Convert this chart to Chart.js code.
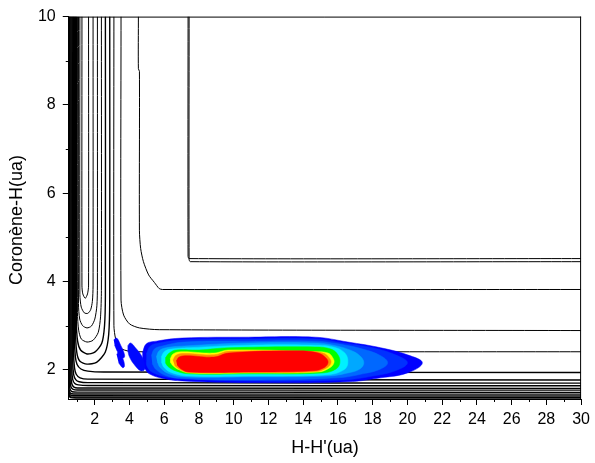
<!DOCTYPE html>
<html>
<head>
<meta charset="utf-8">
<script src="https://cdn.jsdelivr.net/npm/chart.js@4.4.1/dist/chart.umd.min.js"></script>
<style>
  html, body { margin: 0; padding: 0; background: #fff; }
  #wrap { width: 595px; height: 463px; }
</style>
</head>
<body>
<div id="wrap"><canvas id="pes" width="595" height="463"></canvas></div>
<script>
// Axis ticks
const xTicks = [2, 4, 6, 8, 10, 12, 14, 16, 18, 20, 22, 24, 26, 28, 30];
const xMinor = [1, 3, 5, 7, 9, 11, 13, 15, 17, 19, 21, 23, 25, 27, 29];
const yTicks = [2, 4, 6, 8, 10];
const yMinor = [3, 5, 7, 9];

// Contour lines [H-H', Coronene-H]
const upperL1a = [[7.37,10],[7.37,4.57],[7.43,4.52],[30,4.52]];
const upperL1b = [[7.43,10],[7.43,4.50],[7.5,4.45],[30,4.45]];
const upperL2 = [[4.51,10],[4.51,8.82],[4.57,8.76],[4.57,5.15],[4.64,4.75],[4.8,4.45],[5.1,4.15],[5.43,3.98],[5.71,3.84],[5.9,3.82],[30,3.82]];
const upperL3 = [[3.51,10],[3.51,3.58],[3.66,3.24],[4.0,3.04],[4.57,2.95],[5.71,2.91],[30,2.89]];
const upperL4 = [[3.10,10],[3.10,3.0],[3.2,2.7],[3.43,2.5],[4.0,2.42],[5,2.41],[30,2.41]];

const valleyU1 = [[1.26,10],[1.26,3.9],[1.31,3.72],[1.45,3.62],[1.58,3.72],[1.64,3.9],[1.64,10]];
const valleyU2 = [[1.14,10],[1.14,3.7],[1.22,3.42],[1.4,3.29],[1.6,3.28],[1.76,3.36],[1.86,3.55],[1.9,3.9],[1.9,10]];
const valleyU3 = [[1.06,10],[1.06,3.5],[1.13,3.15],[1.3,3.0],[1.55,2.95],[1.8,2.99],[2.0,3.15],[2.12,3.45],[2.15,3.9],[2.15,10]];
const valleyU4 = [[1.0,10],[1.0,3.3],[1.07,2.9],[1.22,2.7],[1.55,2.63],[1.9,2.67],[2.2,2.85],[2.33,3.2],[2.38,3.8],[2.38,10]];
const valleyU5 = [[0.94,10],[0.94,3.1],[1.01,2.65],[1.18,2.45],[1.55,2.36],[2.0,2.40],[2.4,2.6],[2.56,3.0],[2.61,3.7],[2.61,10]];
const valleyU6 = [[0.89,10],[0.89,2.9],[0.96,2.4],[1.13,2.2],[1.55,2.13],[2.1,2.17],[2.6,2.4],[2.8,2.8],[2.86,3.6],[2.86,10]];

const lowerL1 = [[0.83,10],[0.83,2.7],[0.88,2.3],[0.98,2.12],[1.2,2.02],[1.6,1.97],[2.5,1.95],[30,1.94]];
const lowerL2 = [[0.78,10],[0.78,2.4],[0.83,2.05],[0.93,1.9],[1.15,1.82],[1.6,1.79],[30,1.77]];
const lowerL3 = [[0.73,10],[0.73,2.2],[0.78,1.9],[0.9,1.78],[1.1,1.73],[1.6,1.71],[30,1.70]];
const lowerL4 = [[0.68,10],[0.68,2.0],[0.73,1.78],[0.85,1.69],[1.05,1.66],[1.6,1.645],[30,1.64]];
const lowerL5 = [[0.63,10],[0.63,1.85],[0.68,1.68],[0.8,1.61],[1.0,1.59],[30,1.58]];
const lowerL6 = [[0.58,10],[0.58,1.75],[0.63,1.61],[0.75,1.56],[1.0,1.545],[30,1.54]];
const lowerL7 = [[0.54,10],[0.54,1.65],[0.59,1.55],[0.7,1.505],[1.0,1.495],[30,1.49]];
const lowerL8 = [[0.51,10],[0.51,1.6],[0.56,1.5],[0.66,1.46],[1.0,1.452],[30,1.45]];
const lowerL9 = [[0.5,1.55],[0.55,1.46],[0.65,1.42],[1.0,1.412],[30,1.41]];
const lowerL10 = [[0.5,1.47],[0.6,1.39],[1.0,1.382],[30,1.38]];
const lowerL11 = [[0.5,1.42],[0.6,1.37],[1.0,1.362],[30,1.36]];

// Filled density levels (outer to inner)
const ringBlue0 = [[4.74,2.38],[4.97,2.59],[5.54,2.65],[7.03,2.72],[10.86,2.74],[14.69,2.74],[16.57,2.63],[18.46,2.50],[20.0,2.34],[20.86,2.16],[20.0,1.93],[18.46,1.82],[16.57,1.73],[10.86,1.71],[7.03,1.75],[6.0,1.80],[5.14,1.91],[4.86,2.05],[4.74,2.18]];
const ringBlue1 = [[4.97,2.36],[5.2,2.54],[5.71,2.61],[7.14,2.68],[10.86,2.70],[14.69,2.70],[16.29,2.61],[18.0,2.50],[19.31,2.34],[20.0,2.16],[19.31,1.98],[18.0,1.86],[16.29,1.77],[10.86,1.75],[7.14,1.80],[6.11,1.84],[5.29,1.95],[5.0,2.09],[4.97,2.23]];
const ringBlue2 = [[5.26,2.32],[5.43,2.47],[5.89,2.54],[7.14,2.63],[10.86,2.65],[14.69,2.65],[16.0,2.59],[17.43,2.47],[18.46,2.32],[18.86,2.16],[18.46,2.02],[17.43,1.91],[16.0,1.82],[10.86,1.77],[7.14,1.80],[6.17,1.86],[5.54,2.0],[5.31,2.14]];
const ringBlue3 = [[5.54,2.29],[5.71,2.43],[6.11,2.50],[7.14,2.54],[10.86,2.61],[14.69,2.61],[15.71,2.56],[16.69,2.45],[17.26,2.32],[17.49,2.16],[17.26,2.02],[16.57,1.93],[15.43,1.86],[10.86,1.84],[7.14,1.84],[6.29,1.91],[5.77,2.05],[5.6,2.18]];
const ringCyan = [[5.83,2.29],[6.0,2.41],[6.4,2.47],[7.43,2.50],[10.86,2.56],[14.69,2.56],[15.71,2.52],[16.4,2.38],[16.57,2.16],[16.34,2.0],[15.43,1.89],[10.86,1.86],[7.43,1.86],[6.46,1.93],[6.0,2.05],[5.83,2.18]];
const ringGreen = [[6.06,2.27],[6.29,2.38],[6.69,2.45],[8.0,2.45],[9.71,2.50],[14.69,2.52],[15.6,2.47],[16.0,2.34],[16.11,2.16],[15.89,2.02],[15.14,1.93],[10.86,1.91],[7.43,1.91],[6.63,1.98],[6.23,2.07],[6.06,2.16]];
const ringYellow = [[6.34,2.25],[6.51,2.36],[6.97,2.41],[8.86,2.38],[9.71,2.45],[14.69,2.41],[15.43,2.38],[15.71,2.27],[15.77,2.16],[15.54,2.05],[14.86,1.95],[10.86,1.93],[7.43,1.93],[6.86,2.0],[6.51,2.09],[6.34,2.18]];
const ringOrange = [[6.5,2.22],[6.68,2.33],[7.14,2.37],[8.86,2.34],[9.71,2.42],[14.2,2.42],[15.14,2.38],[15.5,2.27],[15.6,2.16],[15.37,2.05],[14.7,1.96],[10.86,1.94],[7.43,1.94],[6.9,2.01],[6.6,2.10]];
const ringRed = [[6.69,2.20],[6.86,2.29],[7.31,2.32],[8.86,2.29],[9.71,2.38],[13.71,2.43],[14.86,2.38],[15.31,2.27],[15.43,2.16],[15.2,2.05],[14.57,1.98],[10.86,1.95],[7.43,1.95],[6.97,2.02],[6.74,2.11]];
const lobeA = [[3.09,2.68],[3.26,2.72],[3.49,2.56],[3.66,2.41],[3.71,2.29],[3.54,2.27],[3.31,2.41],[3.14,2.56]];
const lobeB = [[3.26,2.34],[3.37,2.41],[3.6,2.27],[3.71,2.09],[3.6,2.05],[3.37,2.16]];
const lobeC = [[3.89,2.54],[4.06,2.61],[4.34,2.50],[4.69,2.32],[4.86,2.14],[4.86,2.0],[4.63,1.98],[4.29,2.11],[4.0,2.29],[3.89,2.45]];

const contours = [upperL1a, upperL1b, upperL2, upperL3, upperL4,
  valleyU1, valleyU2, valleyU3, valleyU4, valleyU5, valleyU6,
  lowerL1, lowerL2, lowerL3, lowerL4, lowerL5, lowerL6, lowerL7, lowerL8, lowerL9, lowerL10, lowerL11];

const levels = [
  [ringBlue0, '#0000ff'], [lobeA, '#0000ff'], [lobeB, '#0000ff'], [lobeC, '#0008ff'],
  [ringBlue1, '#0030ff'], [ringBlue2, '#0068ff'], [ringBlue3, '#00a8ff'],
  [ringCyan, '#00f0ff'], [ringGreen, '#00ff00'], [ringYellow, '#ffff00'],
  [ringOrange, '#ff9000'], [ringRed, '#ff0000']
];

const toPts = arr => arr.map(p => ({ x: p[0], y: p[1] }));

const datasets = [];
contours.forEach(c => {
  // the repulsive wall on the left is nearly solid black
  const wall = c[0][0] < 1.0;
  datasets.push({
    data: toPts(c), showLine: true, borderColor: '#000', borderWidth: wall ? 1.4 : 1,
    pointRadius: 0, tension: 0.25, fill: false, order: 50
  });
});
levels.forEach((lv, i) => {
  datasets.push({
    data: toPts(lv[0]), showLine: true, borderColor: lv[1], backgroundColor: lv[1],
    borderWidth: 0.5, pointRadius: 0, tension: 0.4, fill: 'shape', order: 40 - i
  });
});

const font = "Arial, 'Liberation Sans', sans-serif";

// frame on top/right, minor ticks and the y title
const framePlugin = {
  id: 'frame',
  afterDraw(chart) {
    const { ctx, chartArea: a, scales } = chart;
    ctx.save();
    ctx.strokeStyle = '#000';
    ctx.lineWidth = 1;
    ctx.beginPath();
    ctx.moveTo(a.left, a.top + 0.5); ctx.lineTo(a.right, a.top + 0.5);
    ctx.moveTo(a.right - 0.5, a.top); ctx.lineTo(a.right - 0.5, a.bottom);
    xMinor.forEach(v => {
      const px = Math.round(scales.x.getPixelForValue(v)) + 0.5;
      ctx.moveTo(px, a.bottom); ctx.lineTo(px, a.bottom + 3);
    });
    yMinor.forEach(v => {
      const py = Math.round(scales.y.getPixelForValue(v)) + 0.5;
      ctx.moveTo(a.left, py); ctx.lineTo(a.left - 3, py);
    });
    ctx.stroke();

    ctx.translate(17, 220);
    ctx.rotate(-Math.PI / 2);
    ctx.fillStyle = '#000';
    ctx.font = '18px ' + font;
    ctx.textAlign = 'center';
    ctx.textBaseline = 'middle';
    ctx.fillText('Coronène-H(ua)', 0, 0);
    ctx.restore();
  }
};

new Chart(document.getElementById('pes'), {
  type: 'scatter',
  data: { datasets },
  plugins: [framePlugin],
  options: {
    responsive: false,
    animation: false,
    layout: { padding: { top: 15, right: 10, left: 0, bottom: 0 } },
    plugins: { legend: { display: false }, tooltip: { enabled: false } },
    scales: {
      x: {
        type: 'linear', min: 0.5, max: 30,
        afterBuildTicks: s => { s.ticks = xTicks.map(v => ({ value: v })); },
        afterFit: s => { s.height = 64; },
        ticks: { color: '#000', font: { family: font, size: 16 }, padding: 5, maxRotation: 0, autoSkip: false },
        grid: { drawOnChartArea: false, tickLength: 6, color: '#000' },
        border: { color: '#000', width: 1 },
        title: { display: true, text: "H-H'(ua)", color: '#000', font: { family: font, size: 18 }, padding: { top: 0, bottom: 4 } }
      },
      y: {
        type: 'linear', min: 1.34, max: 10,
        afterBuildTicks: s => { s.ticks = yTicks.map(v => ({ value: v })); },
        afterFit: s => { s.width = 68.75; },
        ticks: { color: '#000', font: { family: font, size: 16 }, padding: 7, autoSkip: false },
        grid: { drawOnChartArea: false, tickLength: 6, color: '#000' },
        border: { color: '#000', width: 1 }
      }
    }
  }
});
</script>
</body>
</html>
